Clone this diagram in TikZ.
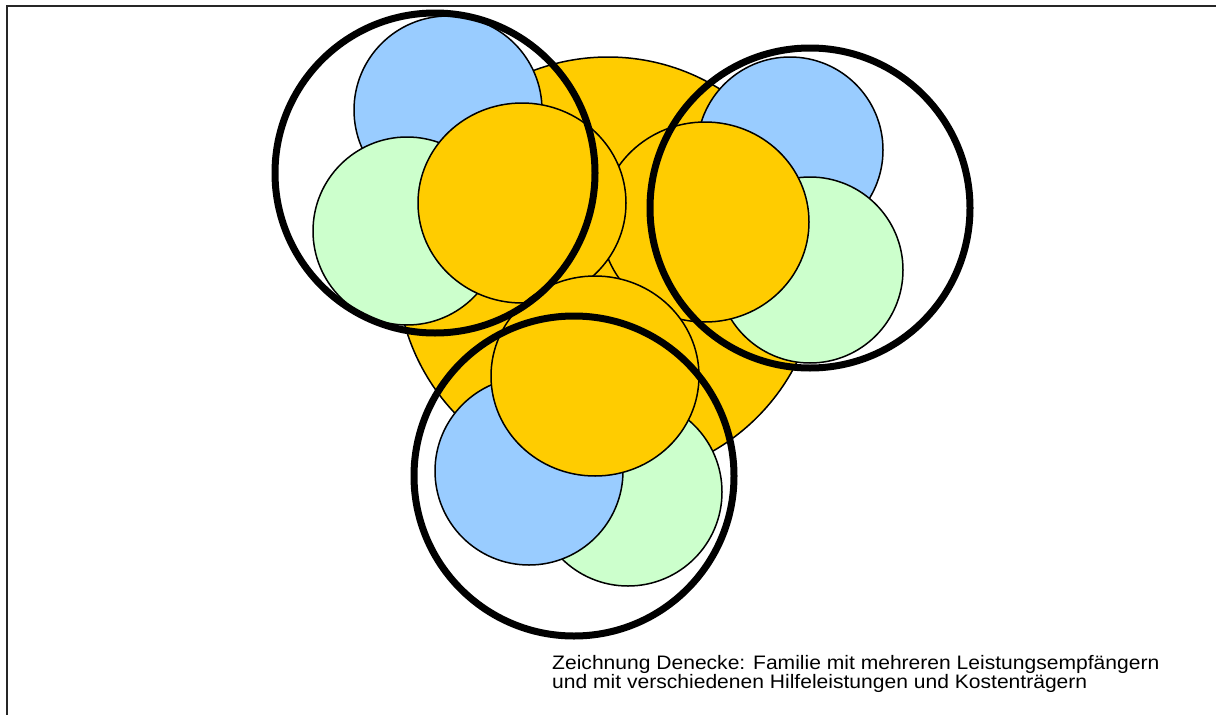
\documentclass[tikz,border=0pt]{standalone}
\usepackage{fontspec}
\setmainfont{Liberation Sans}
\definecolor{famorange}{HTML}{FFCC00}
\definecolor{hilfeblue}{HTML}{99CCFF}
\definecolor{kostengreen}{HTML}{CCFFCC}
\begin{document}
\begin{tikzpicture}[x=1pt, y=-1pt,
        person/.style={draw=black, line width=1.5pt, fill=famorange},
        hilfe/.style={draw=black, line width=1.5pt, fill=hilfeblue},
        kosten/.style={draw=black, line width=1.5pt, fill=kostengreen},
        fallring/.style={draw=black, line width=7pt},
        caption/.style={inner sep=0pt, align=left, xscale=1.08, font=\fontsize{19.5}{17.5}\selectfont}
      ]

\clip (0,0) rectangle (1216,715);
\draw[line width=2.6pt, draw=black!85] (7,740) -- (7,6) -- (1240,6);

% Familie
\path[person] (608,268) circle[radius=211];

% rechts oben
\path[hilfe] (790,150) circle[radius=93];
\path[kosten] (810,270) circle[radius=93];
\path[person] (705,222) ellipse[x radius=104, y radius=100];

% links oben
\path[hilfe] (448,110) circle[radius=94];
\path[kosten] (407,231) circle[radius=94];
\path[person] (522,203) ellipse[x radius=104, y radius=100];

% unten
\path[kosten] (628,492) circle[radius=94];
\path[hilfe] (529,471) circle[radius=94];
\path[person] (595,376) ellipse[x radius=104, y radius=100];

% Leistungsempfaenger
\path[fallring] (435,173) circle[radius=160];
\path[fallring] (810,208) circle[radius=160];
\path[fallring] (574,476) circle[radius=160];

\node[caption, anchor=north west] (legende) at (552,655) {Zeichnung Denecke: Familie mit mehreren Leistungsempfängern\\und mit verschiedenen Hilfeleistungen und Kostenträgern};

\end{tikzpicture}
\end{document}
